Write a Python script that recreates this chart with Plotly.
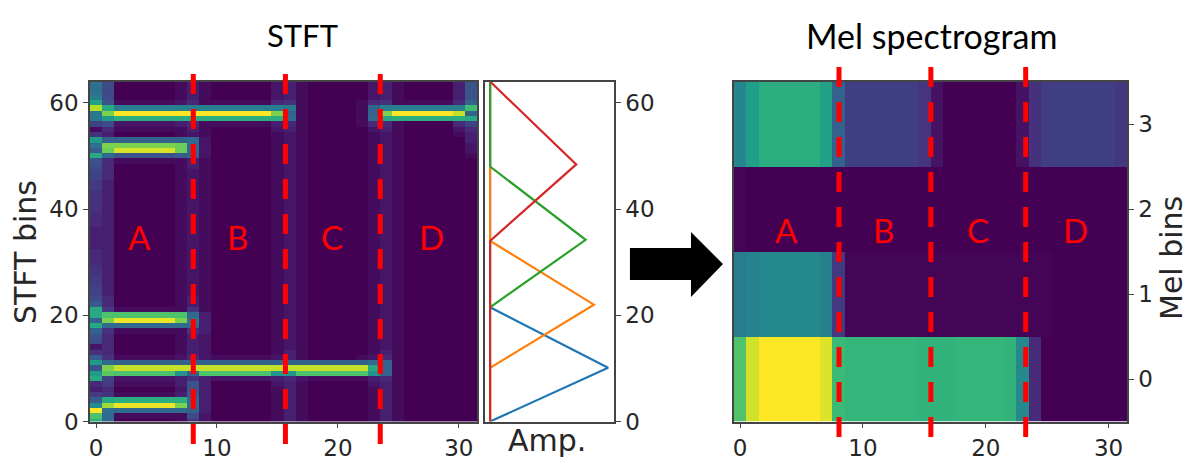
import plotly.graph_objects as go

W, H = 1199, 468

# STFT levels, top row (bin 64) first, one character per frame, 0-z = 0..35 steps of the colour scale
# groups: frames 0-1 | 2-6 | 7-9 | 10-14 | 15-17 | 18-21 | 22-25 | 26-29 | 30-31
stft_rows = [
    "d8 00000 131 00000 231 0000 0231 0000 39",
    "d8 00000 131 00000 231 0000 0231 0000 39",
    "d8 00000 131 00000 231 0000 0231 0000 39",
    "f8 00000 131 00000 231 0000 0231 0000 39",
    "k9 11111 241 11111 451 0000 1451 1111 4b",
    "vl fffff fff fffff fe1 0000 1bff ffff fo",
    "es zzzzz zzz zzzzz sb1 0000 1bsz zzzz wb",
    "ej mmmmm mmm mmmmm mc1 0000 1clm mmmm ml",
    "78 22222 341 11111 341 0000 1441 0000 47",
    "14 11111 131 00000 231 0000 0231 0000 24",
    "53 00000 121 00000 121 0000 0121 0000 13",
    "jb bbbbb bc2 00000 121 0000 0121 0000 03",
    "ds sssss rc2 00000 121 0000 0121 0000 02",
    "ar xxxxx rc2 00000 121 0000 0121 0000 02",
    "lc 99999 ab2 00000 121 0000 0121 0000 01",
    "94 11111 131 00000 121 0000 0121 0000 00",
    "84 00000 131 00000 121 0000 0121 0000 00",
    "74 00000 121 00000 121 0000 0121 0000 00",
    "74 00000 121 00000 121 0000 0121 0000 00",
    "63 00000 121 00000 121 0000 0121 0000 00",
    "63 00000 121 00000 121 0000 0121 0000 00",
    "53 00000 121 00000 121 0000 0121 0000 00",
    "53 00000 121 00000 121 0000 0121 0000 00",
    "53 00000 121 00000 121 0000 0121 0000 00",
    "53 00000 121 00000 121 0000 0121 0000 00",
    "43 00000 121 00000 121 0000 0121 0000 00",
    "43 00000 121 00000 121 0000 0121 0000 00",
    "43 00000 121 00000 121 0000 0121 0000 00",
    "33 00000 121 00000 121 0000 0121 0000 00",
    "33 00000 121 00000 121 0000 0121 0000 00",
    "33 00000 121 00000 121 0000 0121 0000 00",
    "33 00000 121 00000 121 0000 0121 0000 00",
    "43 00000 121 00000 121 0000 0121 0000 00",
    "43 00000 121 00000 121 0000 0121 0000 00",
    "43 00000 121 00000 121 0000 0121 0000 00",
    "53 00000 121 00000 121 0000 0121 0000 00",
    "53 00000 121 00000 121 0000 0121 0000 00",
    "63 00000 121 00000 121 0000 0121 0000 00",
    "63 00000 121 00000 121 0000 0121 0000 00",
    "73 00000 121 00000 121 0000 0121 0000 00",
    "73 00000 121 00000 121 0000 0121 0000 00",
    "84 00000 131 00000 121 0000 0121 0000 00",
    "a4 00000 131 00000 121 0000 0121 0000 00",
    "l6 11111 151 00000 121 0000 0121 0000 00",
    "lp ppppp pc3 00000 121 0000 0121 0000 00",
    "bs yyyyy se3 00000 121 0000 0121 0000 00",
    "lc ccccc cc3 00000 121 0000 0121 0000 00",
    "b5 11111 153 00000 121 0000 0121 0000 00",
    "94 00000 132 00000 121 0000 0121 0000 00",
    "84 00000 132 00000 121 0000 0121 0000 00",
    "24 00000 132 00000 121 0000 0121 0000 00",
    "54 00000 132 00000 131 0000 0131 0000 00",
    "a5 11111 242 11111 231 0000 1241 0000 00",
    "jc bbbbb bbb bbbbb bbb bbbb bcb1 0000 00",
    "9s wwwww www wwwww www wwww wlb1 0000 00",
    "jq ppppp ibp ppppp iip pppp pib1 0000 00",
    "l7 22222 353 22222 342 1111 1341 0000 00",
    "46 11111 393 00000 231 0000 0231 0000 00",
    "34 00000 293 00000 131 0000 0131 0000 00",
    "65 11111 3a3 00000 131 0000 0131 0000 00",
    "al mmmmm mc3 00000 131 0000 0131 0000 00",
    "hu yyyyy sc3 00000 131 0000 0131 0000 00",
    "zd ccccc cb3 00000 131 0000 0131 0000 00",
    "pc 11111 182 00000 131 0000 0131 0000 00",
    "mc 00000 152 00000 131 0000 0131 0000 00",
]

# triangular mel filters: (bin, amplitude) corners
bins_blue = [0, 10.1, 21.5, 64]
amp_blue = [0, 1, 0, 0]
bins_orange = [0, 10.1, 22, 34, 64]
amp_orange = [0, 0, 0.88, 0, 0]
bins_green = [0, 21.5, 34.2, 48, 64]
amp_green = [0, 0, 0.81, 0, 0]
bins_red = [0, 34, 48.4, 64]
amp_red = [0, 0, 0.73, 0]

mel_0 = [0.72, 0.93, 1, 1, 1, 1, 1, 0.95, 0.68, 0.66, 0.66, 0.66, 0.66, 0.66, 0.66, 0.65,
         0.65, 0.65, 0.66, 0.66, 0.66, 0.66, 0.65, 0.47, 0.12, 0, 0, 0, 0, 0, 0, 0]
mel_1 = [0.42, 0.45, 0.47, 0.47, 0.47, 0.47, 0.47, 0.43, 0.17, 0.01, 0.01, 0.01, 0.01, 0.01, 0.01, 0.01,
         0.01, 0.01, 0.01, 0.01, 0.01, 0.01, 0.01, 0.01, 0.01, 0.01, 0, 0, 0, 0, 0, 0]
mel_2 = [0.01, 0, 0, 0, 0, 0, 0, 0, 0, 0, 0, 0, 0, 0, 0, 0,
         0, 0, 0, 0, 0, 0, 0, 0, 0, 0, 0, 0, 0, 0, 0, 0]
mel_3 = [0.46, 0.56, 0.62, 0.62, 0.62, 0.62, 0.62, 0.57, 0.31, 0.19, 0.19, 0.19, 0.19, 0.19, 0.19, 0.15,
         0.05, 0, 0, 0, 0, 0, 0, 0.05, 0.14, 0.18, 0.19, 0.19, 0.19, 0.19, 0.19, 0.16]

# frames where the segment boundaries sit
split_stft = [8.04, 15.66, 23.5]
split_mel = [8.05, 15.53, 23.25]
segments = ["A", "B", "C", "D"]
seg_x_stft = [3.56, 11.7, 19.55, 27.7]
seg_x_mel = [3.74, 11.7, 19.4, 27.3]


def xdom(a, b):
    return [a / W, b / W]


def ydom(top, bottom):
    return [1 - bottom / H, 1 - top / H]


stft = [[int(c, 36) / 35 for c in row.replace(" ", "")] for row in stft_rows][::-1]
stft_bins = list(range(len(stft)))

fig = go.Figure()

fig.add_trace(go.Heatmap(z=stft, y=stft_bins, colorscale="Viridis", zmin=0, zmax=1,
                         showscale=False, xaxis="x", yaxis="y"))

for b, a, col in [(bins_blue, amp_blue, "#1f77b4"), (bins_orange, amp_orange, "#ff7f0e"),
                  (bins_green, amp_green, "#2ca02c"), (bins_red, amp_red, "#d62728")]:
    fig.add_trace(go.Scatter(x=a, y=b, mode="lines", line=dict(color=col, width=2.2),
                             showlegend=False, xaxis="x2", yaxis="y2"))

fig.add_trace(go.Heatmap(z=[mel_0, mel_1, mel_2, mel_3], colorscale="Viridis", zmin=0, zmax=1,
                         showscale=False, xaxis="x3", yaxis="y3"))

tick_font = dict(family="DejaVu Sans", size=23, color="#262626")
title_font = dict(family="DejaVu Sans", size=30, color="#262626")
axis_style = dict(showline=True, linecolor="#444444", linewidth=1.5, mirror=True, showgrid=False, automargin=False,
                  zeroline=False, ticks="outside", ticklen=5, tickcolor="#444444", tickfont=tick_font)

fig.update_layout(
    width=W, height=H, margin=dict(l=0, r=0, t=0, b=0),
    paper_bgcolor="white", plot_bgcolor="white", showlegend=False,
    xaxis=dict(domain=xdom(90, 477), range=[-0.5, 31.5], tickvals=[0, 10, 20, 30], anchor="y", **axis_style),
    yaxis=dict(domain=ydom(81.5, 421.5), range=[0, 64], tickvals=[0, 20, 40, 60], anchor="x", **axis_style),
    xaxis2=dict(domain=xdom(485, 614), range=[-0.043, 1.05], showticklabels=False, ticks="", automargin=False,
                showline=True, linecolor="#444444", linewidth=1.5, mirror=True, showgrid=False, zeroline=False,
                anchor="y2"),
    yaxis2=dict(domain=ydom(81.5, 421.5), range=[0, 64], tickvals=[0, 20, 40, 60], side="right", anchor="x2",
                **axis_style),
    xaxis3=dict(domain=xdom(734, 1127), range=[-0.5, 31.5], tickvals=[0, 10, 20, 30], anchor="y3", **axis_style),
    yaxis3=dict(domain=ydom(81.5, 421.5), range=[-0.5, 3.5], tickvals=[0, 1, 2, 3], side="right", anchor="x3",
                **axis_style),
)

label_font = dict(family="Lato", size=33, color="#ff0000")
centered = dict(showarrow=False, xanchor="center", yanchor="middle")
paper = dict(xref="paper", yref="paper", **centered)
annotations = [
    dict(text="STFT", x=302 / W, y=1 - 35 / H, font=dict(family="Lato", size=31, color="black"), **paper),
    dict(text="Mel spectrogram", x=932 / W, y=1 - 36 / H, font=dict(family="Lato", size=34, color="black"), **paper),
    dict(text="STFT bins", x=25 / W, y=1 - 252 / H, textangle=-90, font=title_font, **paper),
    dict(text="Amp.", x=547 / W, y=1 - 440 / H, font=title_font, **paper),
    dict(text="Mel bins", x=1171 / W, y=1 - 258 / H, textangle=-90, font=title_font, **paper),
]
for s, xs, xm in zip(segments, seg_x_stft, seg_x_mel):
    annotations.append(dict(text=s, xref="x", yref="y", x=xs, y=34.8, font=label_font, **centered))
    annotations.append(dict(text=s, xref="x3", yref="y3", x=xm, y=1.75, font=label_font, **centered))
fig.update_layout(annotations=annotations)

dash = dict(color="#ff0000", width=5, dash="20px,15px")
for v in split_stft:
    fig.add_shape(type="line", xref="x", yref="paper", x0=v, x1=v, y0=1 - 74 / H, y1=1 - 445 / H, line=dash)
for v in split_mel:
    fig.add_shape(type="line", xref="x3", yref="paper", x0=v, x1=v, y0=1 - 67 / H, y1=1 - 438 / H, line=dash)

# arrow between the panels
arrow = [(630, 248), (691, 248), (691, 232), (723, 264), (691, 297), (691, 280), (630, 280)]
path = "M " + " L ".join(f"{x / W:.4f},{1 - y / H:.4f}" for x, y in arrow) + " Z"
fig.add_shape(type="path", xref="paper", yref="paper", path=path, fillcolor="black", line=dict(width=0))

fig.write_html("out.html", config={"displayModeBar": False}, post_script="document.body.style.margin = '0';")
